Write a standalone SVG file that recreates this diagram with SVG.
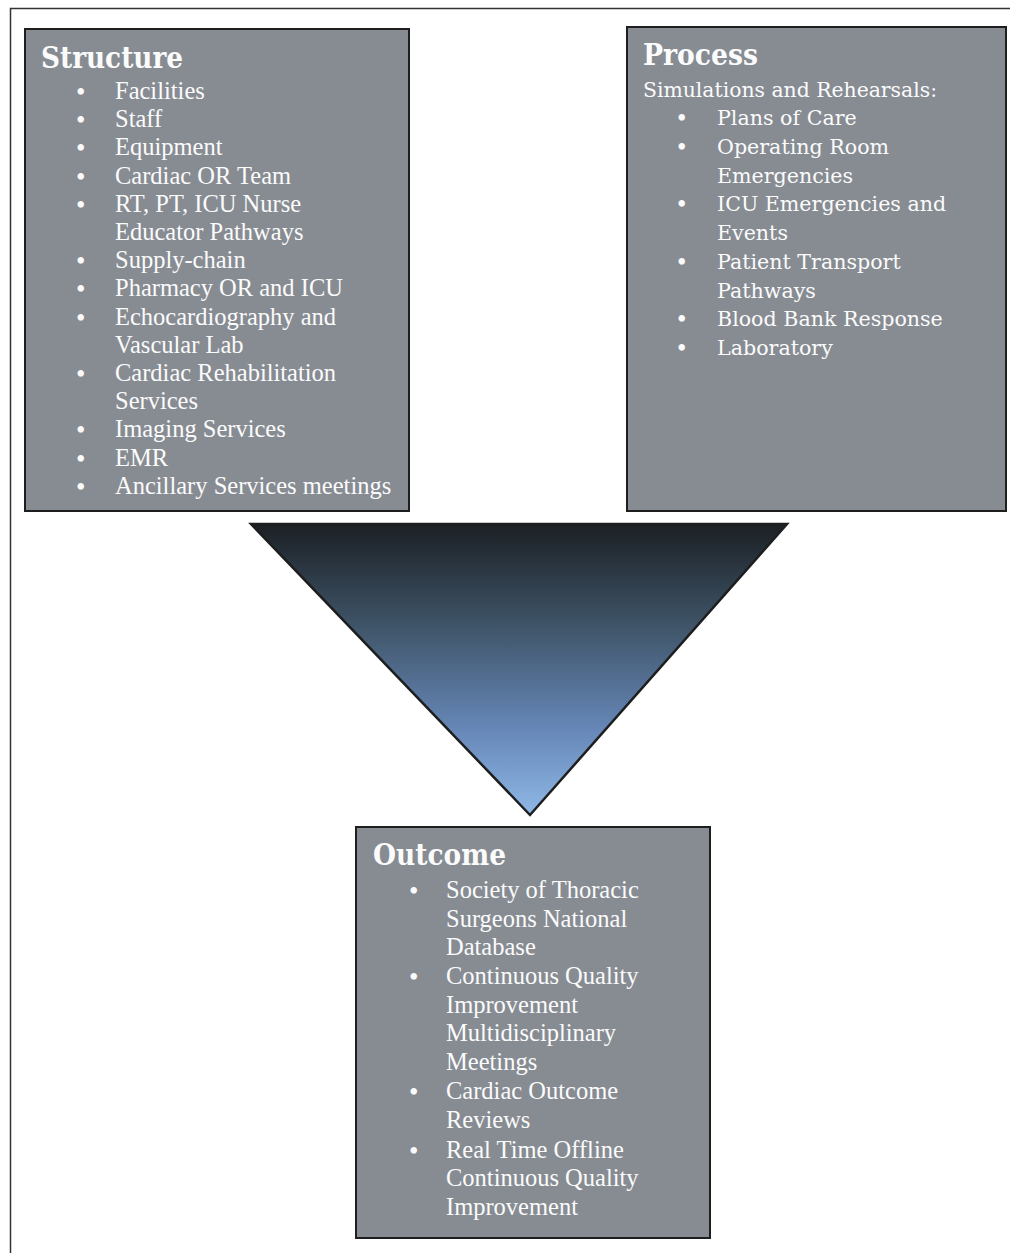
<svg xmlns="http://www.w3.org/2000/svg" width="1010" height="1253" viewBox="0 0 1010 1253">
<defs>
<linearGradient id="tri" x1="0" y1="0" x2="0" y2="1">
<stop offset="0" stop-color="#1b2024"/>
<stop offset="0.35" stop-color="#3f5468"/>
<stop offset="0.7" stop-color="#6586b6"/>
<stop offset="1" stop-color="#8fb8e6"/>
</linearGradient>
<style>
.box{fill:#878c93;stroke:#1e1e1e;stroke-width:2}
.h{font-family:"DejaVu Serif",serif;font-weight:bold;font-size:30px;fill:#fbfbfb}
.t{font-family:"Liberation Serif","Times New Roman",serif;font-size:24.5px;fill:#fbfbfb}
.c{font-family:"DejaVu Serif",serif;font-size:20.6px;fill:#fbfbfb}
.b{font-family:"Liberation Serif",serif;font-size:27px;fill:#fbfbfb}
</style>
</defs>
<rect x="10.5" y="8.5" width="1020" height="1270" fill="#ffffff" stroke="#333" stroke-width="1.5"/>
<g id="structure">
<rect class="box" x="25" y="29" width="384" height="482"/>
<text class="h" x="41" y="68" textLength="142" lengthAdjust="spacingAndGlyphs">Structure</text>
<g class="b" transform="translate(0,2)">
<text x="76" y="99">•</text><text x="76" y="127.2">•</text><text x="76" y="155.4">•</text><text x="76" y="183.6">•</text><text x="76" y="211.8">•</text><text x="76" y="268.2">•</text><text x="76" y="296.4">•</text><text x="76" y="324.6">•</text><text x="76" y="381">•</text><text x="76" y="437.4">•</text><text x="76" y="465.6">•</text><text x="76" y="493.8">•</text>
</g>
<g class="t">
<text x="115" y="99">Facilities</text>
<text x="115" y="127.2">Staff</text>
<text x="115" y="155.4">Equipment</text>
<text x="115" y="183.6">Cardiac OR Team</text>
<text x="115" y="211.8">RT, PT, ICU Nurse</text>
<text x="115" y="240">Educator Pathways</text>
<text x="115" y="268.2">Supply-chain</text>
<text x="115" y="296.4">Pharmacy OR and ICU</text>
<text x="115" y="324.6">Echocardiography and</text>
<text x="115" y="352.8">Vascular Lab</text>
<text x="115" y="381">Cardiac Rehabilitation</text>
<text x="115" y="409.2">Services</text>
<text x="115" y="437.4">Imaging Services</text>
<text x="115" y="465.6">EMR</text>
<text x="115" y="493.8">Ancillary Services meetings</text>
</g>
</g>
<g id="process">
<rect class="box" x="627" y="27" width="379" height="484"/>
<text class="h" x="643" y="65" textLength="115" lengthAdjust="spacingAndGlyphs">Process</text>
<text class="c" x="643" y="96.7" textLength="294" lengthAdjust="spacingAndGlyphs">Simulations and Rehearsals:</text>
<g class="b" transform="translate(0,2)">
<text x="677" y="125.4">•</text><text x="677" y="154">•</text><text x="677" y="211.4">•</text><text x="677" y="268.8">•</text><text x="677" y="326.2">•</text><text x="677" y="354.9">•</text>
</g>
<g class="c">
<text x="717" y="125.4">Plans of Care</text>
<text x="717" y="154">Operating Room</text>
<text x="717" y="182.7">Emergencies</text>
<text x="717" y="211.4">ICU Emergencies and</text>
<text x="717" y="240">Events</text>
<text x="717" y="268.8">Patient Transport</text>
<text x="717" y="297.5">Pathways</text>
<text x="717" y="326.2">Blood Bank Response</text>
<text x="717" y="354.9">Laboratory</text>
</g>
</g>
<g id="connectors">
<polygon points="251,524 787,524 530,815" fill="url(#tri)" stroke="#1e1e1e" stroke-width="2.5" stroke-linejoin="miter"/>
</g>
<g id="outcome">
<rect class="box" x="356" y="827" width="354" height="411"/>
<text class="h" x="373" y="865" textLength="133" lengthAdjust="spacingAndGlyphs">Outcome</text>
<g class="b" transform="translate(0,2)">
<text x="409" y="898.3">•</text><text x="409" y="984.3">•</text><text x="409" y="1099">•</text><text x="409" y="1157.5">•</text>
</g>
<g class="t">
<text x="446" y="898.3">Society of Thoracic</text>
<text x="446" y="926.8">Surgeons National</text>
<text x="446" y="955.3">Database</text>
<text x="446" y="984.3">Continuous Quality</text>
<text x="446" y="1012.8">Improvement</text>
<text x="446" y="1041.3">Multidisciplinary</text>
<text x="446" y="1069.8">Meetings</text>
<text x="446" y="1099">Cardiac Outcome</text>
<text x="446" y="1127.5">Reviews</text>
<text x="446" y="1157.5">Real Time Offline</text>
<text x="446" y="1186">Continuous Quality</text>
<text x="446" y="1214.5">Improvement</text>
</g>
</g>
</svg>
